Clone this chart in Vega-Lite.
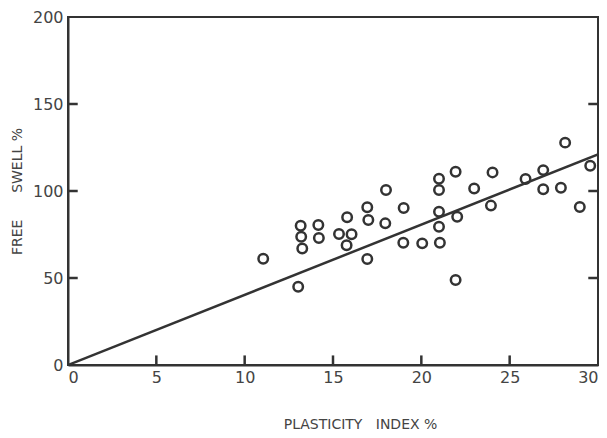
{
  "$schema": "https://vega.github.io/schema/vega-lite/v6.json",
  "width": 530,
  "height": 348,
  "autosize": {"type": "none"},
  "padding": {"left": 68, "top": 17, "right": 9, "bottom": 73},
  "background": "white",
  "config": {
    "view": {"stroke": "#333", "strokeWidth": 2},
    "axis": {
      "grid": false,
      "ticks": false,
      "domainColor": "#333",
      "domainWidth": 2,
      "labelFont": "DejaVu Sans",
      "labelFontSize": 16,
      "labelColor": "#444",
      "titleFont": "DejaVu Sans",
      "titleFontSize": 14,
      "titleFontWeight": "normal",
      "titleColor": "#444"
    }
  },
  "datasets": {
    "pts": [
      {"pi": 11.05, "fs": 61},
      {"pi": 13.03, "fs": 45},
      {"pi": 13.17, "fs": 80},
      {"pi": 13.2, "fs": 73.7},
      {"pi": 13.26, "fs": 67},
      {"pi": 14.17, "fs": 80.5},
      {"pi": 14.2, "fs": 73},
      {"pi": 15.34, "fs": 75.3},
      {"pi": 15.8, "fs": 84.9},
      {"pi": 16.05, "fs": 75.1},
      {"pi": 15.77, "fs": 68.8},
      {"pi": 16.94, "fs": 90.6},
      {"pi": 17.0, "fs": 83.3},
      {"pi": 16.94, "fs": 60.9},
      {"pi": 18.0, "fs": 100.6},
      {"pi": 17.96, "fs": 81.4},
      {"pi": 19.0, "fs": 90.2},
      {"pi": 18.98, "fs": 70.3},
      {"pi": 20.05, "fs": 69.9},
      {"pi": 21.05, "fs": 70.3},
      {"pi": 21.0, "fs": 79.5},
      {"pi": 21.0, "fs": 88.1},
      {"pi": 21.0, "fs": 100.6},
      {"pi": 21.0, "fs": 107},
      {"pi": 21.94, "fs": 111},
      {"pi": 22.03, "fs": 85.2},
      {"pi": 21.94, "fs": 48.9},
      {"pi": 22.99, "fs": 101.5},
      {"pi": 24.03, "fs": 110.7},
      {"pi": 23.94, "fs": 91.6},
      {"pi": 25.9, "fs": 106.9},
      {"pi": 26.9, "fs": 112},
      {"pi": 26.9, "fs": 101},
      {"pi": 27.9, "fs": 101.9},
      {"pi": 28.14, "fs": 127.8},
      {"pi": 28.97, "fs": 90.8},
      {"pi": 29.56, "fs": 114.5}
    ],
    "fit": [
      {"pi": 0, "fs": 0},
      {"pi": 30, "fs": 121}
    ],
    "xticks": [{"v": 5}, {"v": 10}, {"v": 15}, {"v": 20}, {"v": 25}],
    "yticks": [{"v": 50}, {"v": 100}, {"v": 150}]
  },
  "layer": [
    {
      "data": {"name": "pts"},
      "mark": {"type": "point", "shape": "circle", "size": 90, "strokeWidth": 2.5, "color": "#333", "opacity": 1, "filled": false},
      "encoding": {
        "x": {"field": "pi", "type": "quantitative", "scale": {"domain": [0, 30], "nice": false}, "axis": {"values": [0, 5, 10, 15, 20, 25, 30], "labelPadding": 4, "title": "PLASTICITY\u00a0\u00a0\u00a0INDEX\u00a0%", "titlePadding": 32, "titleX": 292}},
        "y": {"field": "fs", "type": "quantitative", "scale": {"domain": [0, 200], "nice": false}, "axis": {"values": [0, 50, 100, 150, 200], "labelPadding": 5, "title": "FREE\u00a0\u00a0\u00a0\u00a0\u00a0\u00a0SWELL\u00a0%", "titlePadding": 8}}
      }
    },
    {
      "data": {"name": "fit"},
      "mark": {"type": "line", "color": "#333", "strokeWidth": 2.5, "clip": true},
      "encoding": {
        "x": {"field": "pi", "type": "quantitative"},
        "y": {"field": "fs", "type": "quantitative"}
      }
    },
    {
      "data": {"name": "xticks"},
      "mark": {"type": "rule", "color": "#333", "strokeWidth": 2.5},
      "encoding": {
        "x": {"field": "v", "type": "quantitative"},
        "y": {"datum": 0, "type": "quantitative"},
        "y2": {"datum": 5.5}
      }
    },
    {
      "data": {"name": "yticks"},
      "mark": {"type": "rule", "color": "#333", "strokeWidth": 2.5},
      "encoding": {
        "y": {"field": "v", "type": "quantitative"},
        "x": {"datum": 0, "type": "quantitative"},
        "x2": {"datum": 0.55}
      }
    },
    {
      "data": {"name": "yticks"},
      "mark": {"type": "rule", "color": "#333", "strokeWidth": 2.5},
      "encoding": {
        "y": {"field": "v", "type": "quantitative"},
        "x": {"datum": 29.45, "type": "quantitative"},
        "x2": {"datum": 30}
      }
    }
  ]
}
